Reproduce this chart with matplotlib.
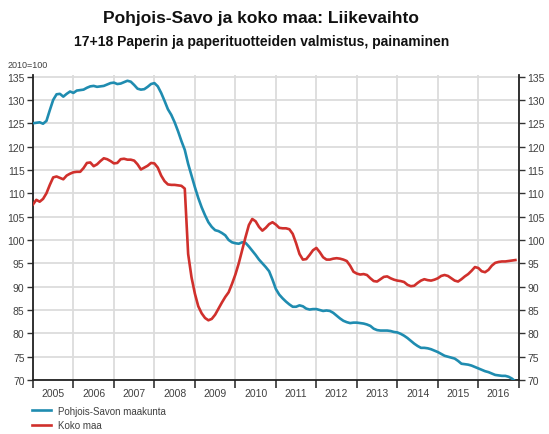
import numpy as np
import matplotlib
matplotlib.use("Agg")
import matplotlib.pyplot as plt

############################
# DATA (monthly, 2005-01 .. 2016-12, 2010=100)
############################
years = list(range(2005, 2017))

savo = [
    125.0, 125.1, 125.2, 124.9, 125.5, 127.8, 130.0, 131.2, 131.3, 130.7, 131.3, 131.8,  # 2005
    131.5, 132.0, 132.1, 132.2, 132.6, 132.9, 133.0, 132.8, 132.9, 133.0, 133.3, 133.6,  # 2006
    133.7, 133.4, 133.5, 133.8, 134.1, 133.9, 133.2, 132.4, 132.2, 132.3, 132.8, 133.4,  # 2007
    133.6, 132.9, 131.5, 129.8, 128.0, 126.8, 125.2, 123.3, 121.2, 119.3, 116.3, 113.8,  # 2008
    111.3, 109.0, 107.0, 105.3, 103.8, 102.8, 102.1, 101.9, 101.5, 101.0, 100.0, 99.5,   # 2009
    99.3, 99.2, 99.5, 99.4, 98.6, 97.7, 96.8, 95.8, 95.0, 94.2, 93.3, 91.5,              # 2010
    89.5, 88.3, 87.5, 86.8, 86.2, 85.7, 85.7, 86.0, 85.8, 85.3, 85.1, 85.2,              # 2011
    85.2, 85.0, 84.8, 84.9, 84.8, 84.4, 83.8, 83.2, 82.7, 82.4, 82.2, 82.3,              # 2012
    82.3, 82.2, 82.1, 81.9, 81.6, 81.0, 80.7, 80.6, 80.6, 80.6, 80.5, 80.3,              # 2013
    80.2, 79.9, 79.5, 79.0, 78.4, 77.8, 77.3, 76.9, 76.9, 76.8, 76.6, 76.3,              # 2014
    76.0, 75.6, 75.2, 75.0, 74.8, 74.6, 74.1, 73.5, 73.4, 73.3, 73.1, 72.8,              # 2015
    72.5, 72.2, 71.9, 71.7, 71.4, 71.1, 71.0, 70.9, 70.9, 70.7, 70.3, 69.7,              # 2016
]

koko = [
    107.6, 108.6, 108.2, 108.8, 110.0, 111.8, 113.4, 113.6, 113.3, 113.0, 113.8, 114.2,  # 2005
    114.5, 114.6, 114.6, 115.4, 116.5, 116.6, 115.8, 116.2, 116.9, 117.5, 117.3, 116.9,  # 2006
    116.4, 116.5, 117.3, 117.4, 117.2, 117.2, 117.0, 116.2, 115.1, 115.5, 115.9, 116.5,  # 2007
    116.4, 115.5, 113.8, 112.6, 111.9, 111.8, 111.8, 111.7, 111.6, 111.0, 97.0, 92.0,    # 2008
    88.5, 85.8, 84.3, 83.3, 82.8, 83.1, 84.0, 85.3, 86.6, 87.8, 88.8, 90.6,              # 2009
    92.6, 95.0, 97.8, 100.6, 103.2, 104.5, 104.0, 102.8, 102.0, 102.6, 103.4, 103.8,     # 2010
    103.3, 102.6, 102.5, 102.5, 102.3, 101.3, 99.3, 97.0, 95.8, 95.9, 96.8, 97.8,        # 2011
    98.3, 97.4, 96.3, 95.8, 95.8, 96.0, 96.1, 96.0, 95.8, 95.5, 94.5, 93.2,              # 2012
    92.8, 92.6, 92.7, 92.5, 91.8, 91.2, 91.1, 91.6, 92.1, 92.2, 91.8, 91.5,              # 2013
    91.3, 91.2, 91.0, 90.4, 90.1, 90.2, 90.8, 91.3, 91.6, 91.4, 91.3, 91.5,              # 2014
    91.8, 92.3, 92.5, 92.3, 91.8, 91.3, 91.1, 91.6, 92.2, 92.7, 93.4, 94.2,              # 2015
    94.0, 93.3, 93.1, 93.6, 94.5, 95.1, 95.3, 95.4, 95.4, 95.5, 95.6, 95.7,              # 2016
]

yticks = list(range(70, 136, 5))
BLUE = "#1f8cb0"
RED = "#d0302c"

plt.rcParams['font.family'] = ['Liberation Sans', 'DejaVu Sans']

t = np.arange(len(savo)) / 12.0 + years[0]

fig = plt.figure(figsize=(5.49, 4.35), dpi=100)
ax = fig.add_axes([0.060, 0.124, 0.885, 0.702])

ax.plot(t, savo, color=BLUE, lw=1.9, label="Pohjois-Savon maakunta", zorder=3)
ax.plot(t, koko, color=RED, lw=1.9, label="Koko maa", zorder=3)

ax.set_xlim(years[0], years[-1] + 1)
ax.set_ylim(70, 135.4)

# year boundaries as major ticks, labels at mid-year
ax.set_xticks([y for y in years] + [years[-1] + 1])
ax.set_xticklabels([])
ax.set_xticks([y + 0.5 for y in years], minor=True)
ax.set_xticklabels([str(y) for y in years], minor=True)
ax.tick_params(axis='x', which='major', direction='out', length=6, width=1.2, color='#333333')
ax.tick_params(axis='x', which='minor', length=0, pad=6, labelsize=7.5, labelcolor='#404040')

ax.set_yticks(yticks)
ax.set_yticklabels([str(v) for v in yticks])
ax.tick_params(axis='y', which='major', direction='out', length=4, width=1.0, color='#333333',
               labelsize=7.5, labelcolor='#404040', left=True, right=True,
               labelleft=True, labelright=True, pad=2)

ax.grid(True, which='major', color='#dcdcdc', lw=1.3, zorder=0)
for s in ['left', 'right', 'bottom']:
    ax.spines[s].set_color('#222222')
    ax.spines[s].set_linewidth(1.3)
ax.spines['top'].set_visible(False)

fig.text(0.476, 0.958, "Pohjois-Savo ja koko maa: Liikevaihto", ha='center', va='center',
         fontsize=12.5, fontweight='bold', color='#111111')
fig.text(0.476, 0.903, "17+18 Paperin ja paperituotteiden valmistus, painaminen", ha='center',
         va='center', fontsize=10, fontweight='bold', color='#111111')
fig.text(0.014, 0.850, "2010=100", ha='left', va='center', fontsize=6.5, color='#404040')

fig.legend(loc='upper left', bbox_to_anchor=(0.058, 0.065), frameon=False, fontsize=7,
           handlelength=2.0, handletextpad=0.7, labelspacing=0.45, labelcolor='#404040',
           borderaxespad=0, borderpad=0)

fig.savefig("out.png", dpi=100)
